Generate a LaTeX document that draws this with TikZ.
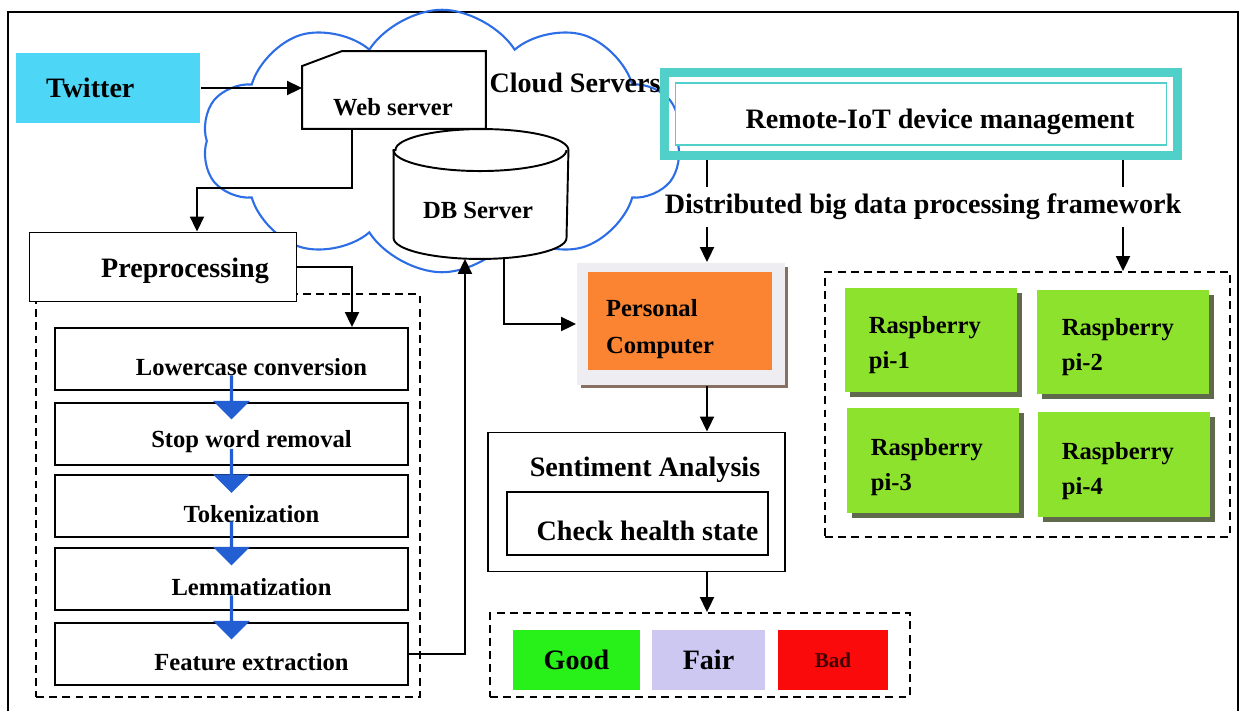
\documentclass[tikz,border=0pt]{standalone}
\usepackage{fontspec}
\setmainfont{Liberation Serif}
\usepackage{tikz}
\usetikzlibrary{arrows.meta, fit, shapes.geometric, shapes.symbols, shapes.misc, shapes.arrows, calc, positioning, shadows}
\definecolor{cloudblue}{RGB}{45,110,230}
\definecolor{twitterblue}{RGB}{77,214,246}
\definecolor{iotteal}{RGB}{80,208,200}
\definecolor{pcorange}{RGB}{250,132,50}
\definecolor{pcgray}{RGB}{238,238,242}
\definecolor{pcshadow}{RGB}{135,112,98}
\definecolor{raspgreen}{RGB}{140,226,45}
\definecolor{raspshadow}{RGB}{95,105,75}
\definecolor{goodgreen}{RGB}{40,240,25}
\definecolor{fairlila}{RGB}{205,200,242}
\definecolor{badred}{RGB}{250,10,10}
\definecolor{stepblue}{RGB}{35,95,210}
\tikzset{
	every node/.style={
		font=\bfseries\fontsize{14}{17}\selectfont
	},
	bigtext/.style={
		font=\bfseries\fontsize{16}{19}\selectfont
	},
	myarrow/.style={-{Triangle[length=0.3cm,width=0.28cm]}},
	plainbox/.style={
		shape=rectangle,
		draw,
		fill=white,
		inner sep=0pt
	},
	dashbox/.style={
		shape=rectangle,
		draw,
		dash pattern=on 4.5pt off 3pt,
		inner sep=0pt
	},
	nube/.style={
		shape=cloud,
		draw=cloudblue,
		line width=1.2pt,
		cloud puffs=10,
		cloud puff arc=115,
		cloud ignores aspect,
		minimum width=9.6cm,
		minimum height=5.25cm,
		inner sep=0pt
	},
	twitter/.style={
		shape=rectangle,
		fill=twitterblue,
		bigtext,
		text width=2.48cm,
		align=left,
		inner xsep=0.6cm,
		minimum height=1.42cm
	},
	hueco/.style={
		shape=rectangle,
		draw=none,
		inner sep=0pt
	},
	stepbox/.style={
		plainbox,
		minimum width=7.06cm,
		minimum height=1.24cm,
		label={[xshift=0.4cm,yshift=-0.16cm]center:#1}
	},
	downarrow/.style={
		shape=single arrow,
		rotate=-90,
		fill=stepblue,
		draw=none,
		inner sep=0pt,
		minimum height=0.88cm,
		minimum width=0.74cm,
		single arrow head extend=0.19cm,
		single arrow head indent=0cm
	},
	iotframe/.style={
		shape=rectangle,
		draw=iotteal,
		line width=0.18cm,
		inner sep=0.2cm
	},
	pcpanel/.style={
		shape=rectangle,
		fill=pcgray,
		minimum width=4.16cm,
		minimum height=2.44cm,
		drop shadow={shadow xshift=0.07cm, shadow yshift=-0.07cm, fill=pcshadow, opacity=1}
	},
	pcbox/.style={
		shape=rectangle,
		fill=pcorange,
		minimum width=3.68cm,
		minimum height=1.96cm
	},
	rasp/.style={
		shape=rectangle,
		fill=raspgreen,
		minimum width=3.46cm,
		minimum height=2.1cm,
		drop shadow={shadow xshift=0.1cm, shadow yshift=-0.1cm, fill=raspshadow, opacity=1}
	},
	rasptext/.style={
		font=\bfseries\fontsize{14}{20}\selectfont,
		align=left,
		anchor=west
	},
	estado/.style={
		shape=rectangle,
		bigtext,
		minimum height=1.2cm,
		inner sep=0pt
	}
}

\begin{document}
\begin{tikzpicture}[x=0.02cm, y=-0.02cm, line width=1.1pt]
	\useasboundingbox (0,0) rectangle (1244,711);
	\draw[line width=1pt] (8,711) -- (8,12) -- (1238,12) -- (1238,711);
	
	% Nube
	\node[nube] (cloud) at (442,141) {};
	\node[bigtext] (cloudlbl) at (575,83) {Cloud Servers};
	
	% Twitter y servidores
	\node[twitter] (tw) at (108,88) {Twitter};
	\node[hueco, minimum width=3.64cm, minimum height=1.52cm] (web) at (394,90) {};
	\draw[fill=white] ([yshift=-0.3cm]web.north west) -- ([xshift=0.8cm]web.north west) -- (web.north east) -- (web.south east) -- (web.south west) -- cycle;
	\node (webtxt) at (393,107) {Web server};
	
	\node[hueco, minimum width=3.46cm, minimum height=2.56cm] (db) at (481,194) {};
	\draw[fill=white] ([yshift=-0.42cm]db.north west) -- ([yshift=0.42cm]db.south west)
		arc[start angle=180, end angle=360, x radius=1.73cm, y radius=0.42cm]
		-- ([yshift=-0.42cm]db.north east)
		arc[start angle=0, end angle=180, x radius=1.73cm, y radius=0.42cm] -- cycle;
	\draw ([yshift=-0.42cm]db.north west) arc[start angle=180, end angle=360, x radius=1.73cm, y radius=0.42cm];
	\node (dbtxt) at (478,210) {DB Server};
	
	% Preprocesamiento
	\node[dashbox, minimum width=7.68cm, minimum height=8.06cm] (prepframe) at (228,495.5) {};
	\node[plainbox, minimum width=5.34cm, minimum height=1.38cm, label={[bigtext, xshift=0.44cm, yshift=-0.08cm]center:Preprocessing}] (prep) at (163,267) {};
	\node[stepbox=Lowercase conversion] (lower) at (231.5,359) {};
	\node[stepbox=Stop word removal]    (stopw) at (231.5,434) {};
	\node[stepbox=Tokenization]         (token) at (231.5,506) {};
	\node[stepbox=Lemmatization]        (lemma) at (231.5,579) {};
	\node[stepbox=Feature extraction]   (feat)  at (231.5,654) {};
	
	\node[downarrow] (ar1) at ($(lower.south)!0.5!(stopw.north)$) {};
	\node[downarrow] (ar2) at ($(stopw.south)!0.5!(token.north)$) {};
	\node[downarrow] (ar3) at ($(token.south)!0.5!(lemma.north)$) {};
	\node[downarrow] (ar4) at ($(lemma.south)!0.5!(feat.north)$) {};
	
	% Gestion remota IoT
	\node[plainbox, draw=iotteal, line width=0.03cm, minimum width=9.82cm, minimum height=1.24cm, label={[bigtext, xshift=0.38cm, yshift=-0.16cm]center:Remote-IoT device management}] (iot) at (921,114) {};
	\node[iotframe, fit=(iot)] (iotf) {};
	\node[bigtext] (dbpf) at (923,207) {Distributed big data processing framework};
	
	% Ordenador personal
	\node[pcpanel] (pc) at (681,324) {};
	\node[pcbox] (pcin) at (680,321) {};
	\node[align=left, font=\bfseries\fontsize{14}{21}\selectfont] (pctxt) at (660,329) {Personal\\Computer};
	
	% Raspberry pi
	\node[dashbox, minimum width=8.1cm, minimum height=5.3cm] (rpframe) at (1027.5,404.5) {};
	\node[rasp] (pi1) at (931,340) {};
	\node[rasp] (pi2) at (1123,342) {};
	\node[rasp] (pi3) at (933,460) {};
	\node[rasp] (pi4) at (1124,464) {};
	\node[rasptext] (t1) at (862,345) {Raspberry\\pi-1};
	\node[rasptext] (t2) at (1055,347) {Raspberry\\pi-2};
	\node[rasptext] (t3) at (864,467) {Raspberry\\pi-3};
	\node[rasptext] (t4) at (1055,471) {Raspberry\\pi-4};
	
	% Analisis de sentimiento
	\node[plainbox, minimum width=5.94cm, minimum height=2.78cm] (sent) at (636.5,502) {};
	\node[bigtext] (senttxt) at (645,470) {Sentiment Analysis};
	\node[plainbox, minimum width=5.22cm, minimum height=1.26cm, label={[bigtext, xshift=0.2cm, yshift=-0.14cm]center:Check health state}] (check) at (637.5,523.5) {};
	
	% Estado de salud
	\node[dashbox, minimum width=8.4cm, minimum height=1.68cm] (resframe) at (700,655) {};
	\node[estado, fill=goodgreen, minimum width=2.54cm] (good) at (576.5,660) {Good};
	\node[estado, fill=fairlila, minimum width=2.26cm] (fair) at (708.5,660) {Fair};
	\node[estado, fill=badred, minimum width=2.2cm, font=\bfseries\fontsize{12}{14}\selectfont, text=black!75!red] (bad) at (833,660) {Bad};
	
	% Conexiones
	\coordinate (pcol) at (352,0);
	\coordinate (bend) at (197,188);
	\coordinate (fcol) at (465,0);
	\coordinate (dcol) at (504,0);
	\coordinate (colx) at (707,0);
	\coordinate (colr) at (1123,0);
	
	\draw[myarrow] (tw.east) -- (tw.east -| web.west);
	\draw[myarrow] (web.south -| pcol) |- (bend) -- (prep.north -| bend);
	\draw[myarrow] (prep.east) -| (lower.north -| pcol);
	\draw[myarrow] (feat.east) -| (db.south -| fcol);
	\draw[myarrow] (db.south -| dcol) |- (pc.west);
	\draw (iotf.south -| colx) -- (dbpf.north -| colx);
	\draw[myarrow] (dbpf.south -| colx) -- (pc.north -| colx);
	\draw (iotf.south -| colr) -- (dbpf.north -| colr);
	\draw[myarrow] (dbpf.south -| colr) -- (rpframe.north -| colr);
	\draw[myarrow] (pc.south -| colx) -- (sent.north -| colx);
	\draw[myarrow] (sent.south -| colx) -- (resframe.north -| colx);
\end{tikzpicture}
\end{document}
